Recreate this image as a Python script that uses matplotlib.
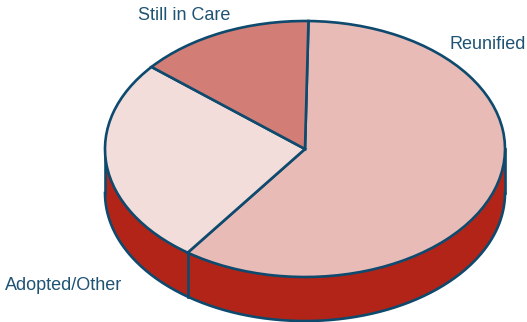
import numpy as np
import matplotlib
matplotlib.use("Agg")
import matplotlib.pyplot as plt

categories = ["Reunified", "Adopted/Other", "Still in Care"]
values = [59.7, 26.1, 14.2]
top_colors = ["#E8BBB7", "#F3DDDB", "#D27E76"]
side_color = "#B22418"
edge_color = "#0E4A6E"

W, H = 527, 322
plt.rcParams["font.family"] = ["Liberation Sans", "DejaVu Sans"]
fig = plt.figure(figsize=(W / 100, H / 100), dpi=100, facecolor="white")
ax = fig.add_axes([0, 0, 1, 1])

cx, cy, rx, ry, depth = 305.0, 149.0, 200.0, 128.0, 44.0
start = 89.0
lw = 1.9

# data coordinates: x,y are pie units (radius 1); axes limits map them to pixels
wedges, _ = ax.pie(values, colors=top_colors, startangle=start, counterclock=False,
                   radius=1, center=(0, 0),
                   wedgeprops=dict(edgecolor=edge_color, linewidth=lw, zorder=3))
ax.set_aspect("auto")
ax.set_xlim(-cx / rx, (W - cx) / rx)
ax.set_ylim(-(H - cy) / ry, cy / ry)
ax.axis("off")

d = depth / ry
# side wall: visible lower half of the rim
t = np.radians(np.linspace(180, 360, 300))
xs, ys = np.cos(t), np.sin(t)
ax.fill_between(xs, ys - d, ys, color=side_color, lw=0, zorder=1)
ax.plot(xs, ys - d, color=edge_color, lw=lw, zorder=2)
ax.plot([-1, -1], [0, -d], color=edge_color, lw=lw, zorder=2)
ax.plot([1, 1], [0, -d], color=edge_color, lw=lw, zorder=2)
# vertical seams where a slice boundary falls on the front rim
bounds = start - np.cumsum(values) * 3.6
for b in bounds:
    a = np.radians(b)
    if np.sin(a) < -0.01:
        ax.plot([np.cos(a)] * 2, [np.sin(a), np.sin(a) - d], color=edge_color, lw=lw, zorder=2)

def px(x, y):
    return (x - cx) / rx, (cy - y) / ry

fs = 13.0
color = "#1F5374"
ax.text(*px(525.5, 44.5), categories[0], ha="right", va="center", fontsize=fs, color=color)
ax.text(*px(5, 286), categories[1], ha="left", va="center", fontsize=fs, color=color)
ax.text(*px(138, 16), categories[2], ha="left", va="center", fontsize=fs, color=color)

fig.savefig("out.png", dpi=100, facecolor="white")
